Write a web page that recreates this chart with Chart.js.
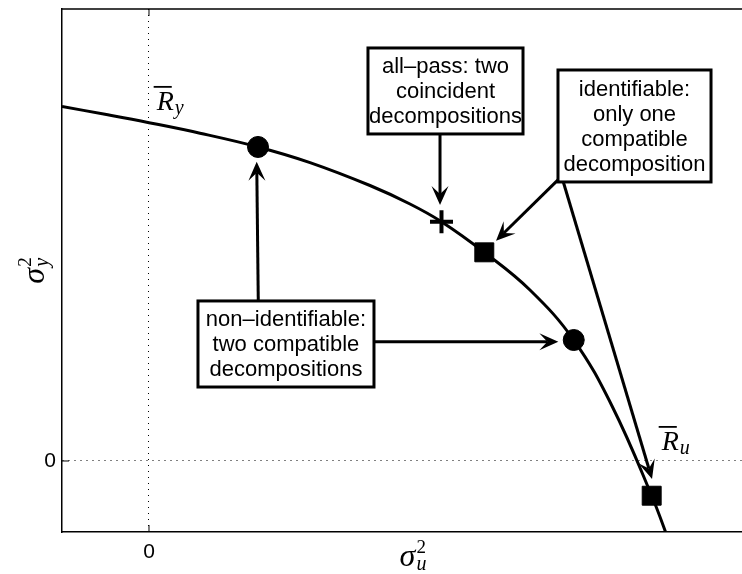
<!DOCTYPE html>
<html>
<head>
<meta charset="utf-8">
<script src="https://cdn.jsdelivr.net/npm/chart.js@4.4.1/dist/chart.umd.min.js"></script>
<style>
  html, body { margin: 0; padding: 0; background: #fff; overflow: hidden; }
  #wrap { width: 770px; height: 574px; }
</style>
</head>
<body>
<div id="wrap"><canvas id="c" width="770" height="574"></canvas></div>
<script>
// frontier curve (sigma_u^2, sigma_y^2)
const curveX = [-1.0, -0.506, 0.0, 0.586, 1.253, 1.851, 2.540, 3.000, 3.362, 3.854, 4.379, 4.882, 5.322, 5.778, 5.989];
const curveY = [4.993, 4.883, 4.765, 4.617, 4.423, 4.203, 3.880, 3.620, 3.370, 2.939, 2.408, 1.704, 0.775, -0.489, -1.169];

// marked decompositions
const circleX = [1.253, 4.882];
const circleY = [4.423, 1.704];
const squareX = [3.854, 5.778];
const squareY = [2.939, -0.489];
const plusX = [3.362];
const plusY = [3.370];

const xTicks = [0];
const yTicks = [0];

// annotation boxes and arrows, in data units
const boxes = [
  { lines: ["all\u2013pass: two", "coincident", "decompositions"], left: 2.517, right: 4.299, top: 5.817, bottom: 4.606 },
  { lines: ["identifiable:", "only one", "compatible", "decomposition"], left: 4.701, right: 6.460, top: 5.507, bottom: 3.930 },
  { lines: ["non\u2013identifiable:", "two compatible", "decompositions"], left: 0.563, right: 2.586, top: 2.254, bottom: 1.042 }
];
const arrows = [
  { from: [3.345, 4.606], to: [3.345, 3.606] },
  { from: [4.701, 3.960], to: [3.989, 3.103] },
  { from: [4.759, 3.944], to: [5.782, -0.254] },
  { from: [1.256, 2.254], to: [1.238, 4.215] },
  { from: [2.586, 1.680], to: [4.705, 1.680] }
];
const labelRy = { x: 0.088, y: 4.944 };
const labelRu = { x: 5.893, y: 0.155 };

const pts = (xs, ys) => xs.map((v, i) => ({ x: v, y: ys[i] }));

function drawMath(ctx, px, py, base, sub, sup, bar, center, size) {
  const fBase = 'italic ' + size + 'px "Liberation Serif"';
  const fSub = 'italic 20px "Liberation Serif"';
  const fSup = '19px "Liberation Serif"';
  ctx.font = fBase;
  const wb = ctx.measureText(base).width;
  ctx.font = fSub;
  const ws = sub ? ctx.measureText(sub).width : 0;
  ctx.font = fSup;
  const wp = sup ? ctx.measureText(sup).width : 0;
  const total = wb + 1 + Math.max(ws, wp);
  const x = center ? px - total / 2 : px;
  ctx.textAlign = 'left';
  ctx.textBaseline = 'alphabetic';
  ctx.fillStyle = '#000';
  ctx.font = fBase;
  ctx.fillText(base, x, py);
  if (bar) ctx.fillRect(x - 3, py - 24, wb + 1, 1.8);
  if (sub) { ctx.font = fSub; ctx.fillText(sub, x + wb + 1, py + 4); }
  if (sup) { ctx.font = fSup; ctx.fillText(sup, x + wb + 1, py - 13); }
}

function drawArrow(ctx, x1, y1, x2, y2) {
  const ang = Math.atan2(y2 - y1, x2 - x1);
  const len = 19, hw = 8.5, notch = 11;
  const c = Math.cos(ang), s = Math.sin(ang);
  ctx.beginPath();
  ctx.moveTo(x1, y1);
  ctx.lineTo(x2 - c * notch, y2 - s * notch);
  ctx.stroke();
  ctx.beginPath();
  ctx.moveTo(x2, y2);
  ctx.lineTo(x2 - c * len - s * hw, y2 - s * len + c * hw);
  ctx.lineTo(x2 - c * notch, y2 - s * notch);
  ctx.lineTo(x2 - c * len + s * hw, y2 - s * len - c * hw);
  ctx.closePath();
  ctx.fill();
}

const decor = {
  id: 'decor',
  afterDraw(chart) {
    const { ctx, chartArea: a, scales: { x, y } } = chart;
    ctx.save();
    ctx.strokeStyle = '#000';
    ctx.fillStyle = '#000';

    // top frame line and inward ticks
    ctx.lineWidth = 1.5;
    ctx.beginPath();
    ctx.moveTo(a.left, a.top);
    ctx.lineTo(a.right, a.top);
    ctx.stroke();
    ctx.lineWidth = 1;
    ctx.beginPath();
    xTicks.forEach(t => {
      const px = x.getPixelForValue(t);
      ctx.moveTo(px, a.bottom); ctx.lineTo(px, a.bottom - 7);
      ctx.moveTo(px, a.top); ctx.lineTo(px, a.top + 7);
    });
    yTicks.forEach(t => {
      const py = y.getPixelForValue(t);
      ctx.moveTo(a.left, py); ctx.lineTo(a.left + 7, py);
    });
    ctx.stroke();

    // arrows
    ctx.lineWidth = 3;
    arrows.forEach(ar => {
      drawArrow(ctx,
        x.getPixelForValue(ar.from[0]), y.getPixelForValue(ar.from[1]),
        x.getPixelForValue(ar.to[0]), y.getPixelForValue(ar.to[1]));
    });

    // boxes
    boxes.forEach(b => {
      const l = x.getPixelForValue(b.left), r = x.getPixelForValue(b.right);
      const t = y.getPixelForValue(b.top), bt = y.getPixelForValue(b.bottom);
      ctx.fillStyle = '#fff';
      ctx.fillRect(l, t, r - l, bt - t);
      ctx.lineWidth = 3;
      ctx.strokeRect(l, t, r - l, bt - t);
      ctx.fillStyle = '#000';
      ctx.font = '22px "Liberation Sans", Arial, sans-serif';
      ctx.textAlign = 'center';
      ctx.textBaseline = 'middle';
      const cy = (t + bt) / 2, lh = 25, n = b.lines.length;
      b.lines.forEach((txt, i) => {
        ctx.fillText(txt, (l + r) / 2, cy + (i - (n - 1) / 2) * lh + 1);
      });
    });

    // curve labels
    drawMath(ctx, x.getPixelForValue(labelRy.x), y.getPixelForValue(labelRy.y), 'R', 'y', null, true, false, 28);
    drawMath(ctx, x.getPixelForValue(labelRu.x), y.getPixelForValue(labelRu.y), 'R', 'u', null, true, false, 28);

    // axis titles
    drawMath(ctx, (a.left + a.right) / 2, 566, '\u03c3', 'u', '2', false, true, 32);
    ctx.translate(44, (a.top + a.bottom) / 2);
    ctx.rotate(-Math.PI / 2);
    drawMath(ctx, 0, 0, '\u03c3', 'y', '2', false, true, 32);
    ctx.restore();
  }
};

const tickFont = { family: '"Liberation Sans", Arial, sans-serif', size: 21 };
const noPad = s => { s.paddingLeft = 0; s.paddingRight = 0; s.paddingTop = 0; s.paddingBottom = 0; };

new Chart(document.getElementById('c'), {
  type: 'scatter',
  data: {
    datasets: [
      {
        data: pts(curveX, curveY),
        showLine: true,
        borderColor: '#000',
        borderWidth: 3,
        pointRadius: 0,
        tension: 0.4,
        clip: 0,
        order: 5
      },
      {
        data: pts(circleX, circleY),
        pointStyle: 'circle',
        pointRadius: 10.5,
        backgroundColor: '#000',
        borderColor: '#000',
        borderWidth: 1,
        order: 1
      },
      {
        data: pts(squareX, squareY),
        pointStyle: 'rect',
        pointRadius: 13.4,
        backgroundColor: '#000',
        borderColor: '#000',
        borderWidth: 1,
        order: 1
      },
      {
        data: pts(plusX, plusY),
        pointStyle: 'cross',
        pointRadius: 11.5,
        borderColor: '#000',
        borderWidth: 4,
        order: 1
      }
    ]
  },
  options: {
    responsive: false,
    animation: false,
    devicePixelRatio: 1,
    layout: { autoPadding: false, padding: { top: 9, right: 6, left: 0, bottom: 0 } },
    plugins: { legend: { display: false }, tooltip: { enabled: false } },
    scales: {
      x: {
        type: 'linear',
        min: -1,
        max: 7.069,
        afterBuildTicks: s => { s.ticks = xTicks.map(v => ({ value: v })); },
        afterFit: s => { s.height = 42; noPad(s); },
        grid: { color: '#000', lineWidth: 1, drawTicks: false },
        border: { display: true, color: '#000', width: 1.5, dash: [1, 5] },
        ticks: { font: tickFont, color: '#000', padding: 8, maxRotation: 0 }
      },
      y: {
        type: 'linear',
        min: -1,
        max: 6.366,
        afterBuildTicks: s => { s.ticks = yTicks.map(v => ({ value: v })); },
        afterFit: s => { s.width = 62; noPad(s); },
        grid: { color: '#000', lineWidth: 1, drawTicks: false },
        border: { display: true, color: '#000', width: 1.5, dash: [1, 5] },
        ticks: { font: tickFont, color: '#000', padding: 6 }
      }
    }
  },
  plugins: [decor]
});
</script>
</body>
</html>
